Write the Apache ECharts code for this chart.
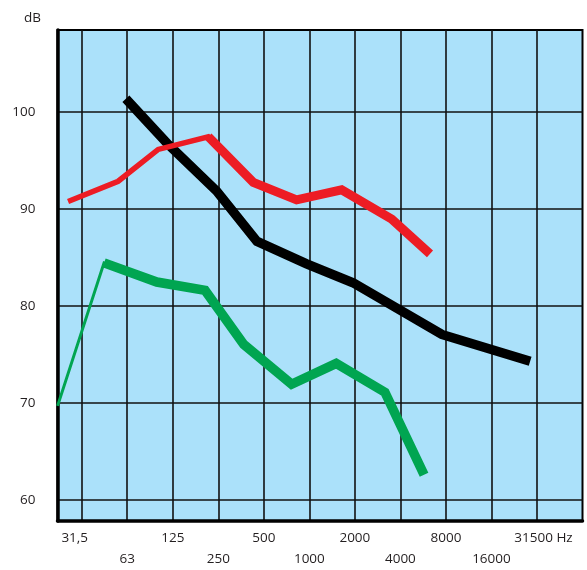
<!DOCTYPE html>
<html>
<head>
<meta charset="utf-8">
<script src="https://cdn.jsdelivr.net/npm/echarts@6/dist/echarts.min.js"></script>
<style>
html,body{margin:0;padding:0;background:#fff;}
#chart{width:587px;height:570px;}
</style>
</head>
<body>
<div id="chart"></div>
<script>
// Tick positions (octave index) and their labels
const xTicks = [0, 1, 2, 3, 4, 5, 6, 7, 8, 9, 10];
const freqLabels = ['31,5', '63', '125', '250', '500', '1000', '2000', '4000', '8000', '16000', '31500'];
const yTicks = [60, 70, 80, 90, 100];

// Series values: x in octaves from 31,5 Hz, y in dB
const blackX = [0.97, 1.90, 2.96, 3.85, 4.94, 5.96, 7.91, 9.85];
const blackY = [101.36, 96.65, 91.86, 86.65, 84.34, 82.39, 77.06, 74.29];

const redX = [-0.30, 0.80, 1.68, 2.78, 3.77, 4.72, 5.71, 6.81, 7.65];
const redY = [90.77, 92.85, 96.13, 97.44, 92.72, 90.93, 91.96, 88.95, 85.36];

const greenX = [-0.53, 0.49, 1.65, 2.71, 3.56, 4.61, 5.59, 6.66, 7.52];
const greenY = [69.7, 84.44, 82.46, 81.6, 76.03, 71.93, 74.08, 71.1, 62.6];

const upperTicks = xTicks.filter((t, i) => i % 2 === 0);
const lowerTicks = xTicks.filter((t, i) => i % 2 === 1);

function pts(xs, ys, from, to) {
  const out = [];
  for (let i = from; i <= to; i++) out.push([xs[i], ys[i]]);
  return out;
}

function lineSeries(data, color, width) {
  return {
    type: 'line',
    xAxisIndex: 0,
    data: data,
    symbol: 'none',
    silent: true,
    clip: true,
    lineStyle: { color: color, width: width, join: 'miter', cap: 'butt' }
  };
}

const RED = '#ed1c24', GREEN = '#00a551', BLACK = '#000000';
const TXT = '#231f20';
const FONT = 'Open Sans';
const FS = 13.5;

function freqFormatter(v) {
  const i = xTicks.indexOf(Math.round(v));
  if (i < 0) return '';
  const s = freqLabels[i];
  if (i === 0) return '{p|' + s + '}';
  if (i === xTicks.length - 1) return '{q|' + s + ' Hz}';
  return s;
}

const XMIN = -0.532, XMAX = 11.0;

const chart = echarts.init(document.getElementById('chart'), null, { renderer: 'canvas' });
chart.setOption({
  animation: false,
  title: {
    text: 'dB', left: 19, top: 6,
    textStyle: { fontFamily: FONT, fontSize: FS, fontWeight: 'normal', color: TXT }
  },
  grid: {
    left: 57.5, top: 30, width: 525, height: 493.5,
    show: true, backgroundColor: '#abe1fa', borderColor: '#000', borderWidth: 2
  },
  xAxis: [{
    type: 'value', min: XMIN, max: XMAX, position: 'bottom',
    axisLine: { show: true, onZero: false, lineStyle: { color: '#000', width: 3.5 } },
    axisTick: { show: false, customValues: xTicks },
    splitLine: { show: true, lineStyle: { color: '#111', width: 1.6 } },
    axisLabel: {
      customValues: upperTicks,
      hideOverlap: false, showMinLabel: true, showMaxLabel: true,
      margin: 6,
      fontFamily: FONT, fontSize: FS, color: TXT, lineHeight: 21.5,
      formatter: freqFormatter,
      rich: {
        p: { fontFamily: FONT, fontSize: FS, color: TXT, lineHeight: 21.5, padding: [0, 14, 0, 0] },
        q: { fontFamily: FONT, fontSize: FS, color: TXT, lineHeight: 21.5, padding: [0, 0, 0, 13] }
      }
    }
  }, {
    type: 'value', min: XMIN, max: XMAX, position: 'bottom', offset: 21.5,
    axisLine: { show: false, onZero: false },
    axisTick: { show: false, customValues: lowerTicks },
    splitLine: { show: false },
    axisLabel: {
      customValues: lowerTicks,
      hideOverlap: false, showMinLabel: true, showMaxLabel: true,
      margin: 6,
      fontFamily: FONT, fontSize: FS, color: TXT, lineHeight: 21.5,
      formatter: freqFormatter
    }
  }],
  yAxis: {
    type: 'value', min: 57.83, max: 108.44,
    axisLine: { show: true, onZero: false, lineStyle: { color: '#000', width: 3.5 } },
    axisTick: { show: false, customValues: yTicks },
    splitLine: { show: true, lineStyle: { color: '#111', width: 1.6 } },
    axisLabel: {
      customValues: yTicks,
      hideOverlap: false, showMinLabel: true, showMaxLabel: true,
      margin: 22,
      fontFamily: FONT, fontSize: FS, color: TXT
    }
  },
  series: [
    lineSeries(pts(blackX, blackY, 0, blackX.length - 1), BLACK, 9.5),
    lineSeries(pts(redX, redY, 0, 4), RED, 5.5),
    lineSeries(pts(redX, redY, 3, redX.length - 1), RED, 9),
    lineSeries(pts(greenX, greenY, 0, 2), GREEN, 3),
    lineSeries(pts(greenX, greenY, 1, greenX.length - 1), GREEN, 9.5)
  ]
});
</script>
</body>
</html>
